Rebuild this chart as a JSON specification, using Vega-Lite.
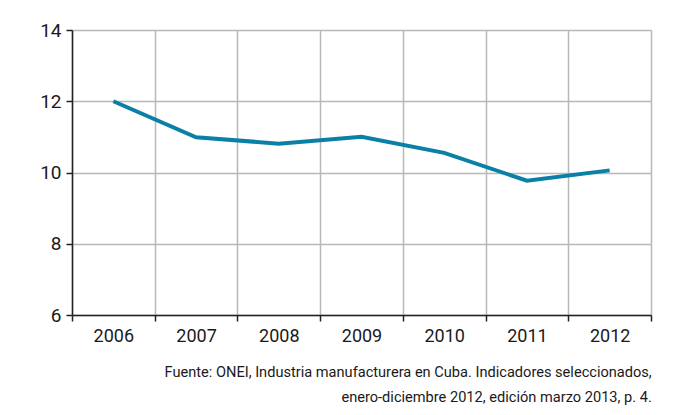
{
  "$schema": "https://vega.github.io/schema/vega-lite/v6.json",
  "autosize": {"type": "none"},
  "padding": {"left": 72, "top": 30, "right": 27, "bottom": 100},
  "width": 579,
  "height": 285,
  "background": "white",
  "config": {
    "view": {"stroke": null},
    "font": "Roboto"
  },
  "title": {
    "text": ["Fuente: ONEI, Industria manufacturera en Cuba. Indicadores seleccionados,", "enero-diciembre 2012, edición marzo 2013, p. 4."],
    "orient": "bottom",
    "anchor": "end",
    "align": "right",
    "font": "Roboto",
    "fontSize": 14.6,
    "fontWeight": "normal",
    "color": "#1a1a1a",
    "lineHeight": 25,
    "offset": 20
  },
  "data": {
    "values": [
      {"year": "2006", "value": 12.0},
      {"year": "2007", "value": 10.99},
      {"year": "2008", "value": 10.81},
      {"year": "2009", "value": 11.0},
      {"year": "2010", "value": 10.55},
      {"year": "2011", "value": 9.77},
      {"year": "2012", "value": 10.06}
    ]
  },
  "mark": {"type": "line", "color": "#0a80a6", "strokeWidth": 4},
  "encoding": {
    "x": {
      "field": "year",
      "type": "ordinal",
      "scale": {"type": "band", "paddingInner": 0, "paddingOuter": 0},
      "axis": {
        "title": null,
        "labelAngle": 0,
        "labelFontSize": 18,
        "labelColor": "#1a1a1a",
        "labelPadding": 6,
        "tickBand": "extent",
        "tickSize": 6,
        "tickColor": "#222222",
        "tickWidth": 1.5,
        "domainColor": "#222222",
        "domainWidth": 1.5,
        "grid": true,
        "gridColor": "#b8b8b8",
        "gridWidth": 1.5
      }
    },
    "y": {
      "field": "value",
      "type": "quantitative",
      "scale": {"domain": [6, 14], "nice": false, "zero": false},
      "axis": {
        "title": null,
        "values": [6, 8, 10, 12, 14],
        "labelFontSize": 19,
        "labelColor": "#1a1a1a",
        "labelPadding": 5,
        "tickSize": 6,
        "tickColor": "#222222",
        "tickWidth": 1.5,
        "domainColor": "#222222",
        "domainWidth": 1.5,
        "grid": true,
        "gridColor": "#b8b8b8",
        "gridWidth": 1.5
      }
    }
  }
}
